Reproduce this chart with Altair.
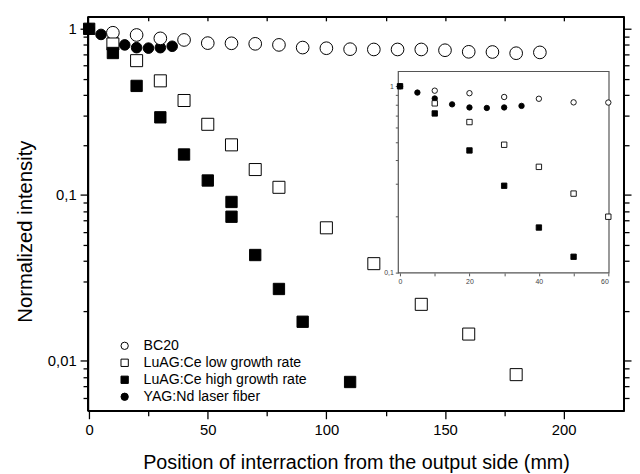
import altair as alt
import pandas as pd

# ---------------- data ----------------
series_names = ["BC20", "LuAG:Ce low growth rate", "LuAG:Ce high growth rate", "YAG:Nd laser fiber"]

bc20_x = [10, 20, 30, 40, 50, 60, 70, 80, 90, 100, 110, 120, 130, 140, 150, 160, 170, 180, 190]
bc20_y = [0.947, 0.918, 0.876, 0.857, 0.820, 0.818, 0.812, 0.800, 0.771, 0.764, 0.754, 0.751,
          0.751, 0.751, 0.743, 0.727, 0.725, 0.713, 0.721]

low_x = [10, 20, 30, 40, 50, 60, 70, 80, 100, 120, 140, 160, 180]
low_y = [0.81, 0.643, 0.486, 0.370, 0.266, 0.200, 0.142, 0.111, 0.0633, 0.0385, 0.0219, 0.0145, 0.00826]

high_x = [0, 10, 20, 30, 40, 50, 60, 60, 70, 80, 90, 110]
high_y = [1.0, 0.715, 0.453, 0.293, 0.175, 0.122, 0.0906, 0.0738, 0.0434, 0.0271, 0.0172, 0.00746]

yag_x = [0, 5, 10, 15, 20, 25, 30, 35]
yag_y = [1.0, 0.925, 0.86, 0.80, 0.77, 0.765, 0.77, 0.785]

x_title = "Position of interraction from the output side (mm)"
y_title = "Normalized intensity"

main_x_domain = [-0.5, 225.5]
main_y_domain = [0.005, 1.18]
inset_x_domain = [-0.5, 60.2]
inset_y_domain = [0.1, 1.2]

# ---------------- tables ----------------
rows = []
for name, xs_, ys_ in [(series_names[3], yag_x, yag_y), (series_names[0], bc20_x, bc20_y),
                       (series_names[1], low_x, low_y), (series_names[2], high_x, high_y)]:
    for a, b in zip(xs_, ys_):
        rows.append({"x": a, "y": b, "series": name})
df = pd.DataFrame(rows)

x0, x1 = main_x_domain
y0, y1 = main_y_domain
edges_df = pd.DataFrame({"xa": [x0, x1, x0, x0], "xb": [x0, x1, x1, x1],
                         "ya": [y0, y0, y0, y1], "yb": [y1, y1, y0, y1]})
frame_df = pd.DataFrame({"x0": [inset_x_domain[0]], "x1": [inset_x_domain[1]],
                         "y0": [inset_y_domain[0]], "y1": [inset_y_domain[1]]})

FONT = "Liberation Sans"
W, H = 543, 399

x_ticks = list(range(0, 201, 25))
y_ticks = [m * 10.0 ** e for e in (-3, -2, -1) for m in range(1, 10)] + [1.0]
y_ticks = [v for v in y_ticks if v >= 0.0059]
major_test = "abs(log(datum.value)/LN10 - round(log(datum.value)/LN10)) < 1e-6"

xs = alt.Scale(domain=main_x_domain, nice=False, zero=False)
ys = alt.Scale(type="log", domain=main_y_domain, nice=False)

shape_scale = alt.Scale(domain=series_names, range=["circle", "square", "square", "circle"])
fill_scale = alt.Scale(domain=series_names, range=["white", "white", "black", "black"])
stroke_scale = alt.Scale(domain=series_names, range=["black", "black", "black", "black"])
size_scale = alt.Scale(domain=series_names, range=[165, 115, 115, 150])

legend = alt.Legend(title=None, orient="none", legendX=30, legendY=326, padding=0,
                    labelFont=FONT, labelFontSize=14.3, labelColor="black", labelOffset=12,
                    labelLimit=400, symbolSize=55, symbolStrokeColor="black", symbolStrokeWidth=1,
                    rowPadding=2.2, symbolOpacity=1)

x_axis = alt.Axis(orient="bottom", values=x_ticks, title=x_title, domain=True,
                  labelExpr="datum.value % 50 == 0 ? datum.label : ''",
                  tickSize={"condition": {"test": "datum.value % 50 == 0", "value": 8}, "value": 5},
                  labelFontSize=15, labelPadding=4, titleFontSize=20,
                  titleY=58, titleBaseline="alphabetic")
y_axis = alt.Axis(orient="left", values=y_ticks, title=y_title, domain=True,
                  labelExpr="datum.value == 1 ? '1' : (abs(datum.value-0.1)<1e-9 ? '0,1' : (abs(datum.value-0.01)<1e-9 ? '0,01' : ''))",
                  tickSize={"condition": {"test": major_test, "value": 8}, "value": 5},
                  labelFontSize=15, labelPadding=4, titleFontSize=20.5,
                  titleX=-57, titleY=217, titleBaseline="alphabetic")

points = alt.Chart(df).transform_calculate(sz="datum.series").mark_point(
    filled=True, strokeWidth=1, opacity=1).encode(
    x=alt.X("x:Q", scale=xs, axis=x_axis),
    y=alt.Y("y:Q", scale=ys, axis=y_axis),
    shape=alt.Shape("series:N", scale=shape_scale, legend=legend),
    fill=alt.Fill("series:N", scale=fill_scale, legend=legend),
    stroke=alt.Stroke("series:N", scale=stroke_scale, legend=legend),
    size=alt.Size("sz:N", scale=size_scale, legend=None),
)

top_axis = alt.Axis(orient="top", values=list(range(25, 201, 25)), labels=False, domain=False,
                    tickSize=4, offset=-4, title=None)
right_axis = alt.Axis(orient="right", values=y_ticks, labels=False, domain=False, title=None,
                      tickSize={"condition": {"test": major_test, "value": 7}, "value": 5})
frame_axes = alt.Chart(df).mark_point(opacity=0).encode(
    x=alt.X("x:Q", scale=xs, axis=top_axis),
    y=alt.Y("y:Q", scale=ys, axis=right_axis),
)

main_frame = alt.Chart(edges_df).mark_rule(color="black", strokeWidth=1.6, opacity=1).encode(
    x=alt.X("xa:Q", scale=xs, axis=None), x2="xb",
    y=alt.Y("ya:Q", scale=ys, axis=None), y2="yb",
)
edge_style = dict(color="black", strokeWidth=1.6, opacity=1)
edge_left = alt.Chart(edges_df).mark_rule(**edge_style).encode(
    x=alt.value(0), y=alt.value(0), y2=alt.value(H))
edge_right = alt.Chart(edges_df).mark_rule(**edge_style).encode(
    x=alt.value(W), y=alt.value(0), y2=alt.value(H))
edge_top = alt.Chart(edges_df).mark_rule(**edge_style).encode(
    y=alt.value(0), x=alt.value(0), x2=alt.value(W))
edge_bottom = alt.Chart(edges_df).mark_rule(**edge_style).encode(
    y=alt.value(H), x=alt.value(0), x2=alt.value(W))

# ---------------- inset ----------------
ix_left, ix_right = 403.3 - 89, 616.7 - 89
iy_bottom, iy_top = 273.3 - 14, 69.3 - 14
ixs = alt.Scale(domain=inset_x_domain, range=[ix_left, ix_right], nice=False, zero=False)
iys = alt.Scale(type="log", domain=inset_y_domain, range=[iy_bottom, iy_top], nice=False)

ix_axis = alt.Axis(orient="bottom", offset=-(H - iy_bottom), values=list(range(0, 61, 10)),
                   labelExpr="datum.value % 20 == 0 ? datum.label : ''", tickSize=3,
                   labelFontSize=7, labelColor="#444", tickColor="#555", tickWidth=1,
                   domain=False, title=None, labelPadding=2)
iy_axis = alt.Axis(orient="left", offset=-ix_left, values=[round(0.1 * k, 1) for k in range(1, 11)],
                   labelExpr="datum.value == 1 ? '1' : (datum.value == 0.1 ? '0,1' : '')", tickSize=3,
                   labelFontSize=7, labelColor="#444", tickColor="#555", tickWidth=1,
                   domain=False, title=None, labelPadding=2)

inset_frame = alt.Chart(frame_df).mark_rect(fill="white", stroke="#555", strokeWidth=1.2).encode(
    x=alt.X("x0:Q", scale=ixs, axis=ix_axis), x2="x1",
    y=alt.Y("y0:Q", scale=iys, axis=iy_axis), y2="y1",
)
inset_points = alt.Chart(df).transform_filter(
    f"datum.x <= {inset_x_domain[1]} && datum.y >= {inset_y_domain[0]}"
).mark_point(filled=True, strokeWidth=0.9, opacity=1, size=30).encode(
    x=alt.X("x:Q", scale=ixs, axis=None),
    y=alt.Y("y:Q", scale=iys, axis=None),
    shape=alt.Shape("series:N", scale=shape_scale, legend=legend),
    fill=alt.Fill("series:N", scale=fill_scale, legend=legend),
    stroke=alt.Stroke("series:N", scale=stroke_scale, legend=legend),
)

chart = alt.layer(points, frame_axes, main_frame, edge_left, edge_right, edge_top, edge_bottom,
                  inset_frame, inset_points).resolve_scale(
    x="independent", y="independent", size="independent"
).resolve_axis(x="independent", y="independent").properties(
    width=W, height=H,
    background="white",
    autosize=alt.AutoSizeParams(type="none"),
    padding={"left": 81, "top": 6, "right": 8, "bottom": 62},
).configure_view(stroke="black", strokeWidth=1.5).configure_axis(
    grid=False, domainColor="black", domainWidth=1.5, tickColor="black", tickWidth=1.3,
    labelFont=FONT, titleFont=FONT, labelColor="black", titleColor="black",
    titleFontWeight="normal",
)

chart.save("out.html", embed_options={"renderer": "svg", "actions": False})
